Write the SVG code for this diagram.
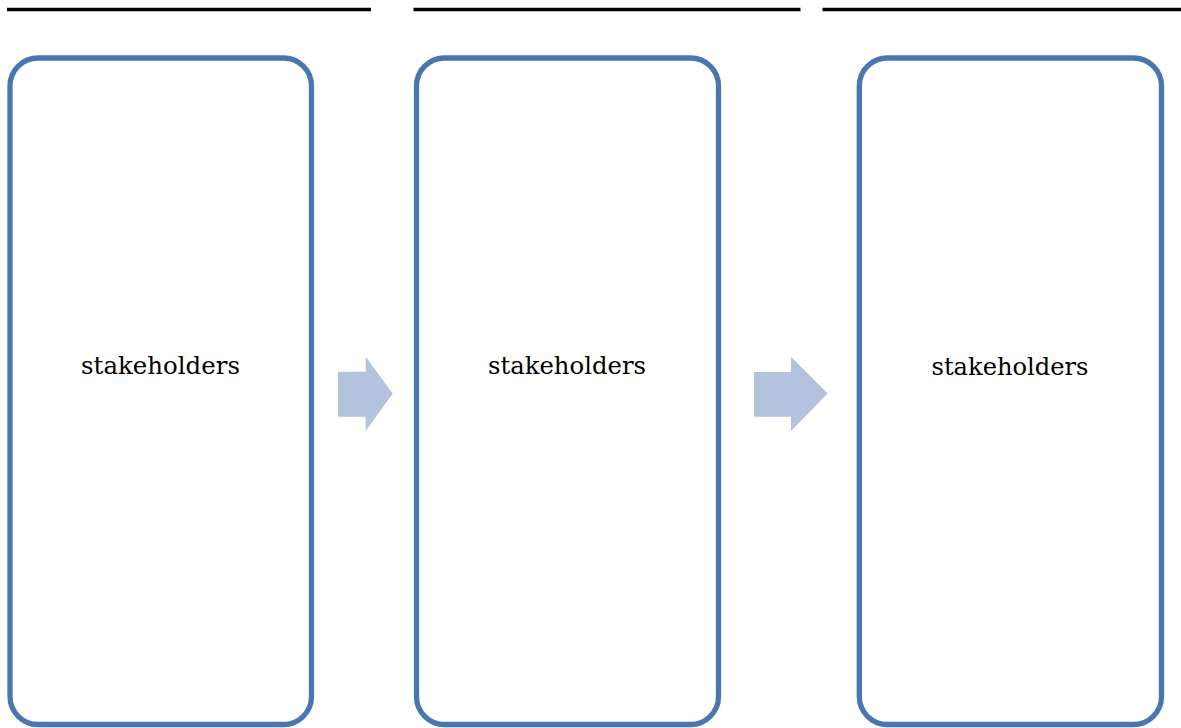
<svg xmlns="http://www.w3.org/2000/svg" width="1181" height="728" viewBox="0 0 1181 728">
  <style>
    .box { fill: #FFFFFF; stroke: #4A76AF; stroke-width: 5.3; }
    .rule { stroke: #000000; stroke-width: 3.4; }
    .arrow { fill: #B3C3DE; stroke: none; }
    .lbl { font-family: "DejaVu Serif", "Liberation Serif", serif; font-size: 25px; fill: #000000; }
  </style>
  <rect width="1181" height="728" fill="#FFFFFF"/>
  <g id="rules">
    <line class="rule" x1="7" y1="9.5" x2="371" y2="9.5"/>
    <line class="rule" x1="413.5" y1="9.5" x2="800.5" y2="9.5"/>
    <line class="rule" x1="822.5" y1="9.5" x2="1181" y2="9.5"/>
  </g>
  <g id="node1">
    <rect class="box" x="10" y="58" width="301.5" height="666.5" rx="28" ry="28"/>
    <text class="lbl" x="81" y="373.5" textLength="159" lengthAdjust="spacingAndGlyphs">stakeholders</text>
  </g>
  <g id="node2">
    <rect class="box" x="416.5" y="58" width="302" height="666.5" rx="28" ry="28"/>
    <text class="lbl" x="488" y="374" textLength="158" lengthAdjust="spacingAndGlyphs">stakeholders</text>
  </g>
  <g id="node3">
    <rect class="box" x="859.3" y="58" width="302.2" height="666.5" rx="28" ry="28"/>
    <text class="lbl" x="931.5" y="375" textLength="157" lengthAdjust="spacingAndGlyphs">stakeholders</text>
  </g>
  <g id="connectors">
    <polygon class="arrow" points="338,371.7 365.7,371.7 365.7,356.7 392.7,393.5 365.7,431 365.7,416.7 338,416.7"/>
    <polygon class="arrow" points="754,372 791,372 791,356.7 827.7,393.5 791,431 791,416.7 754,416.7"/>
  </g>
</svg>
